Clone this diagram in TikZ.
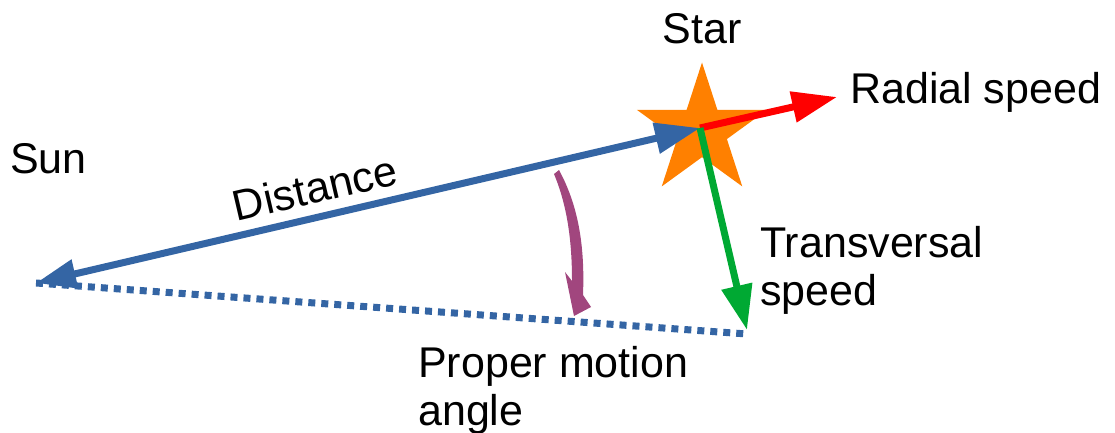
\documentclass[tikz,border=0pt]{standalone}
\usepackage{fontspec}
\setmainfont{Liberation Sans}
\usepackage{tikz}
\usetikzlibrary{
  arrows.meta,
  shapes.geometric,
  positioning
}
\definecolor{pmBlue}{HTML}{3465A4}
\definecolor{pmRed}{HTML}{FF0000}
\definecolor{pmGreen}{HTML}{00A933}
\definecolor{pmOrange}{HTML}{FF8000}
\definecolor{pmPurple}{HTML}{A1467E}
\tikzset{
  pmlabel/.style={font=\fontsize{43}{48}\selectfont, inner sep=0pt, align=left, text=black},
  pmstar/.style={
    star, star points=5, star point ratio=2.618, minimum size=137pt,
    inner sep=0pt, fill=pmOrange, draw=none
  },
  distline/.style={{Triangle[length=40pt, width=28pt]}-{Triangle[length=45pt, width=30pt]}, line width=7pt, pmBlue},
  baseline/.style={line width=7pt, pmBlue, dash pattern=on 7pt off 6pt},
  radial/.style={-{Triangle[length=45pt, width=30pt]}, line width=7pt, pmRed},
  transv/.style={-{Triangle[length=45pt, width=30pt]}, line width=7pt, pmGreen}
}
\begin{document}
\begin{tikzpicture}[x=1pt, y=-1pt]
  \useasboundingbox (0,0) rectangle (1115,433);
  % points
  \node[pmstar] (star) at (702,131) {};
  \coordinate (hub) at (700,128);
  \coordinate (sunpt) at (36,283);
  \coordinate (dotend) at (747,334);
  \coordinate (radend) at (837,97);
  \coordinate (tvend) at (747,330);
  % lines and arrows
  \draw[baseline] (sunpt) -- (dotend);
  \draw[distline] (sunpt) -- node[pmlabel, pos=0.43, sloped, above=10pt] (dist) {Distance} (hub);
  \draw[radial] (hub) -- (radend);
  \draw[transv] (hub) -- (tvend);
  % proper motion angle
  \fill[pmPurple] (559,170) .. controls (578,205) and (585,245) .. (583,295)
    -- (591,307) -- (574,316) -- (565,272) -- (572,281)
    .. controls (572,240) and (567,205) .. (554,174) -- cycle;
  % labels
  \node[pmlabel, anchor=base] (starlbl) at (702,44) {Star};
  \node[pmlabel, anchor=base west] (sun) at (10,173) {Sun};
  \node[pmlabel, anchor=base west] (radlbl) at (850,104) {Radial speed};
  \node[pmlabel, anchor=base west] (tvlbl) at (760,305) {Transversal\\speed};
  \node[pmlabel, anchor=base west] (pmlbl) at (418,425) {Proper motion\\angle};
\end{tikzpicture}
\end{document}
